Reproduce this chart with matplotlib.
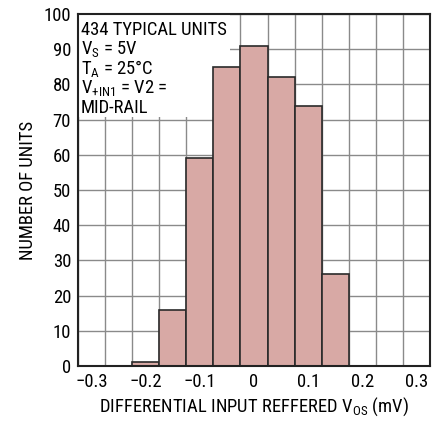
import numpy as np
import matplotlib
matplotlib.use("Agg")
import matplotlib.pyplot as plt
from matplotlib.patches import Rectangle

# Histogram data: offset voltage bins (mV) and unit counts
bin_centers = [-0.20, -0.15, -0.10, -0.05, 0.00, 0.05, 0.10, 0.15]
unit_counts = [1, 16, 59, 85, 91, 82, 74, 26]
bin_width = 0.05
x_ticks = [-0.3, -0.2, -0.1, 0, 0.1, 0.2, 0.3]
x_tick_labels = ["\u22120.3", "\u22120.2", "\u22120.1", "0", "0.1", "0.2", "0.3"]
y_ticks = list(range(0, 101, 10))
note_lines = [
    "434 TYPICAL UNITS",
    r"V$_\mathregular{S}$ = 5V",
    r"T$_\mathregular{A}$ = 25°C",
    r"V$_\mathregular{+IN1}$ = V2 =",
    "MID-RAIL",
]

family = "Roboto Condensed"
plt.rcParams["font.family"] = [family, "DejaVu Sans"]
plt.rcParams["mathtext.fontset"] = "custom"
plt.rcParams["mathtext.rm"] = family
FS = 13.4

fig = plt.figure(figsize=(4.34, 4.22), dpi=100)
ax = fig.add_axes([78 / 434, 56 / 422, 352 / 434, 352 / 422])

ax.set_xlim(-0.325, 0.325)
ax.set_ylim(0, 100)

# grid at bin edges and every 10 units
edges = np.arange(-0.325, 0.3251, bin_width)
ax.set_xticks(edges, minor=True)
ax.set_xticks(x_ticks)
ax.set_xticklabels(x_tick_labels, fontsize=FS)
ax.set_yticks(y_ticks)
ax.set_yticklabels([str(v) for v in y_ticks], fontsize=FS)
ax.tick_params(which="both", length=0)
ax.tick_params(axis="x", pad=5)
ax.tick_params(axis="y", pad=5)
ax.grid(False, which="major", axis="x")
ax.grid(True, which="minor", axis="x", color="#8a8a8a", linewidth=1.0, zorder=0)
ax.grid(True, which="major", axis="y", color="#8a8a8a", linewidth=1.0, zorder=0)
ax.set_axisbelow(True)

# white panel behind the annotation
ax.add_patch(Rectangle((-0.325, 70.6), 0.281, 29.4, facecolor="white",
                       edgecolor="none", zorder=1))

ax.bar(bin_centers, unit_counts, width=bin_width, color="#d8a9a5",
       edgecolor="#2a2a2a", linewidth=1.2, zorder=2)

for s in ax.spines.values():
    s.set_linewidth(1.5)
    s.set_color("#222222")

y0 = 30
for i, line in enumerate(note_lines):
    fig.text(81 / 434, 1 - (y0 + i * 19.6) / 422, line, fontsize=FS,
             ha="left", va="center")

ax.set_xlabel(r"DIFFERENTIAL INPUT REFFERED V$_\mathregular{OS}$ (mV)",
              fontsize=FS, labelpad=3)
ax.set_ylabel("NUMBER OF UNITS", fontsize=FS, labelpad=5)

fig.savefig("out.png", dpi=100)
